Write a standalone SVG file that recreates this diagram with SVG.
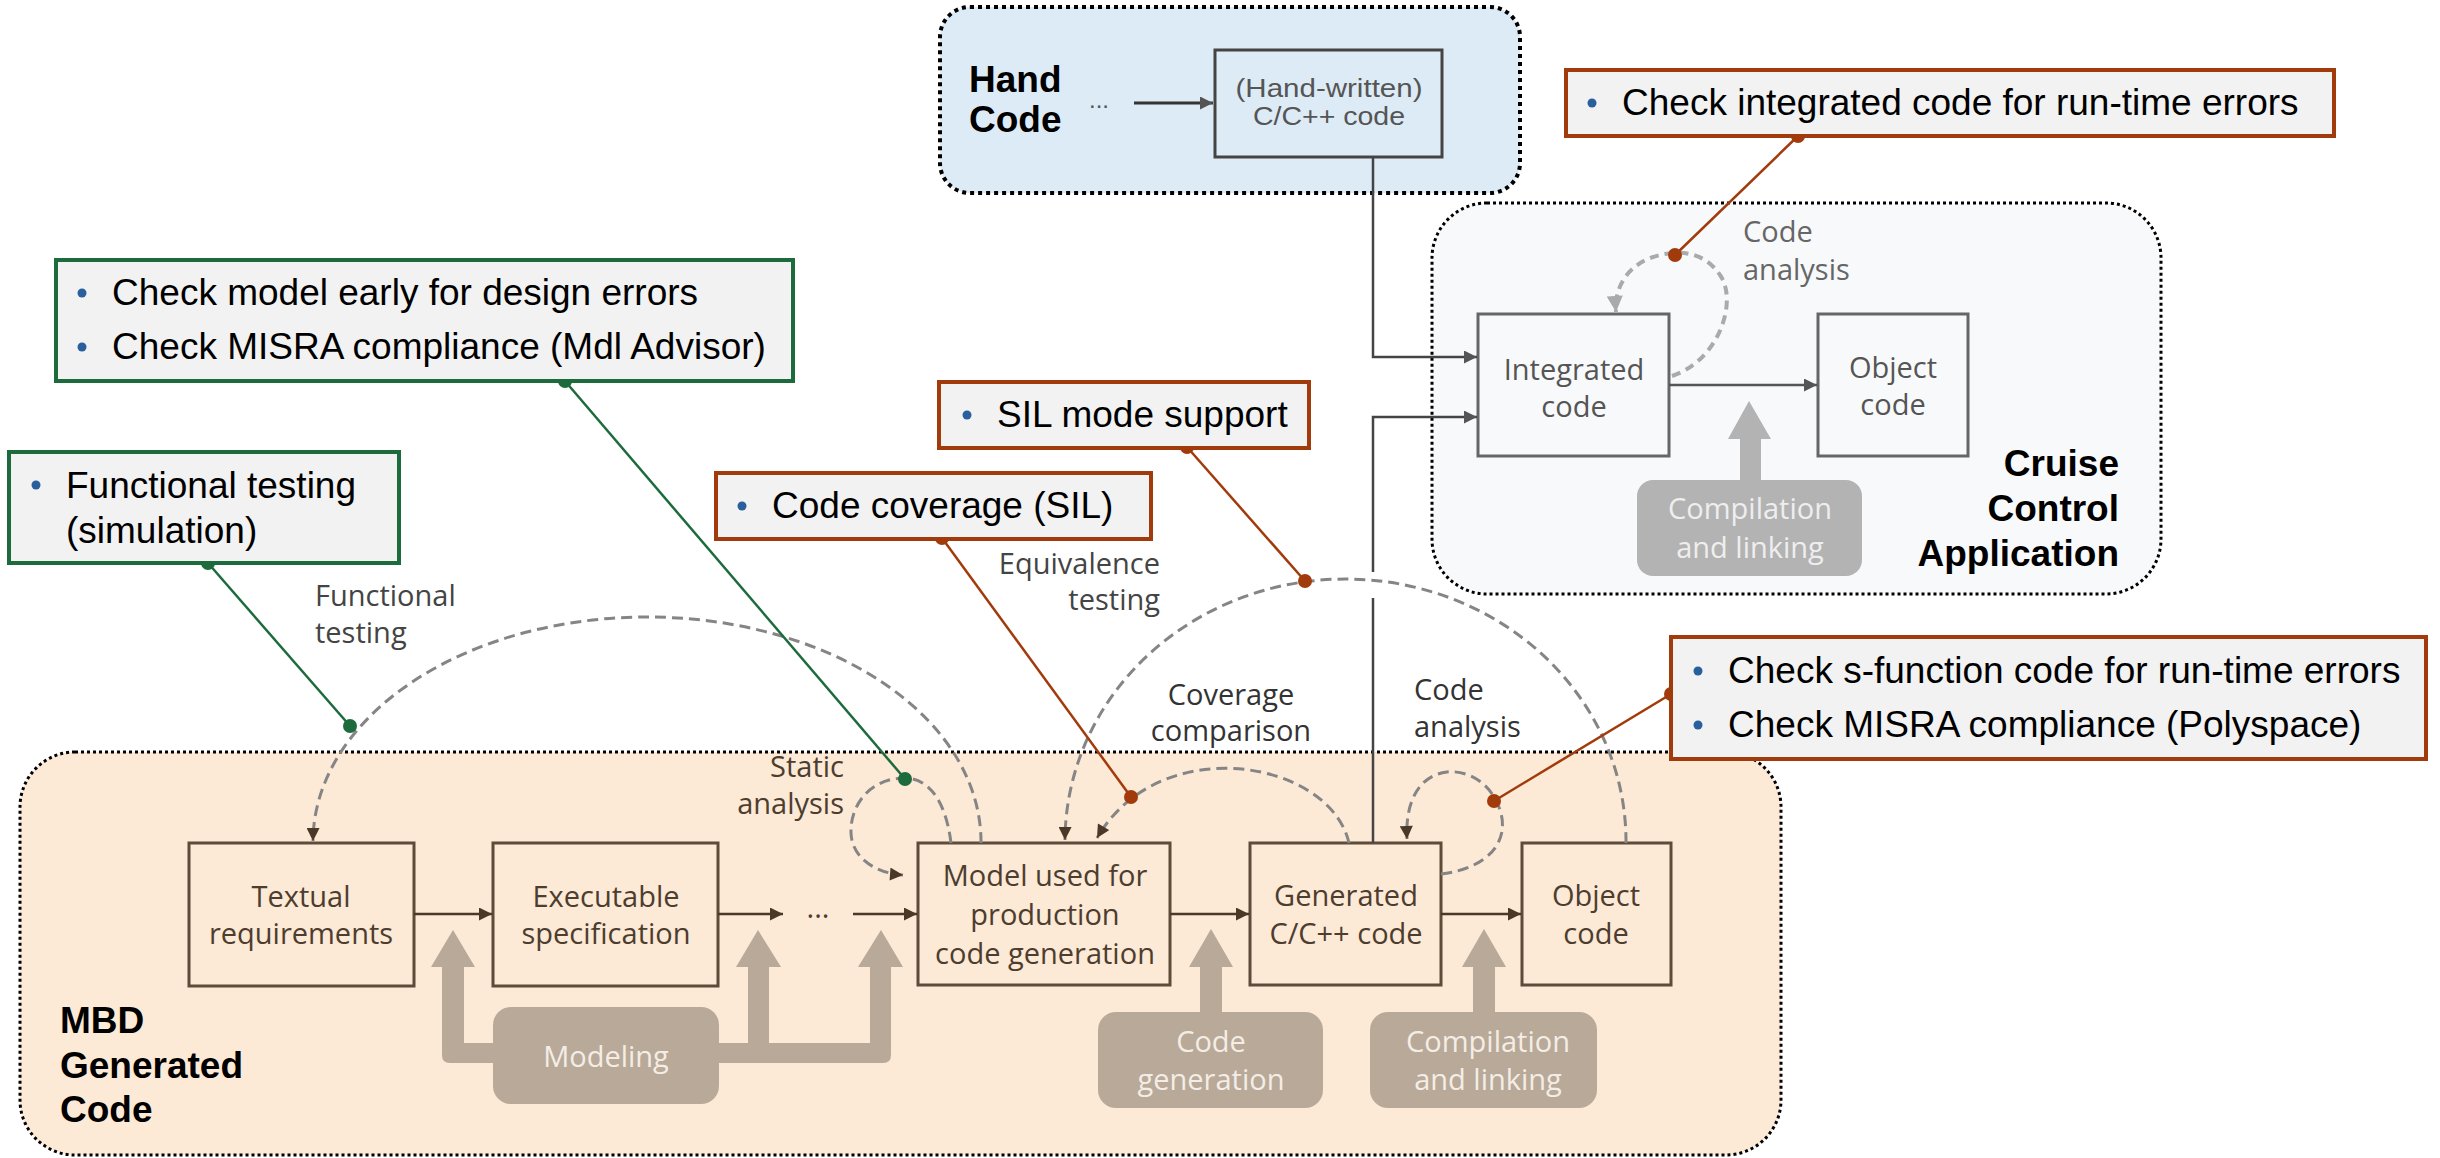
<svg xmlns="http://www.w3.org/2000/svg" width="2440" height="1158" viewBox="0 0 2440 1158">
<style>
.region{stroke:#000;stroke-linecap:butt}
.bold{font-family:"Liberation Sans",Arial,sans-serif;font-weight:bold;font-size:37px;fill:#000}
.co{fill:#f2f2f2;stroke-width:4}
.g{stroke:#1d6b3c}
.b{stroke:#a23b0c}
.cot{font-family:"Liberation Sans",Arial,sans-serif;font-size:37px;fill:#000}
.bul{fill:#2a5f9e}
.lbl{font-family:"Open Sans",sans-serif;font-size:29px}
.mbdbox{fill:#fce9d6;stroke:#5e4b39;stroke-width:3}
.mbdt{fill:#4d3d2f}
.tan{fill:#b8a999}
.tant{fill:#f4ede5}
.crbox{fill:#f8f9fb;stroke:#666;stroke-width:3}
.crt{fill:#555}
.sol{fill:none;stroke:#4a3828;stroke-width:2.5}
.dash{fill:none;stroke:#858585;stroke-width:3;stroke-dasharray:11 6}
.gl{stroke:#1d6b3c;stroke-width:2.5}
.bl{stroke:#a23b0c;stroke-width:2.5}
</style>
<defs>
<marker id="ah" viewBox="0 0 10 10" refX="10" refY="5" markerUnits="userSpaceOnUse" markerWidth="15" markerHeight="13" orient="auto"><path d="M0,0 L10,5 L0,10 z" fill="#4a3828"/></marker>
<marker id="ahg" viewBox="0 0 10 10" refX="10" refY="5" markerUnits="userSpaceOnUse" markerWidth="15" markerHeight="13" orient="auto"><path d="M0,0 L10,5 L0,10 z" fill="#555"/></marker>
<marker id="ahl" viewBox="0 0 10 10" refX="10" refY="5" markerUnits="userSpaceOnUse" markerWidth="18" markerHeight="16" orient="auto"><path d="M0,0 L10,5 L0,10 z" fill="#aaa"/></marker>
</defs>

<!-- Regions -->
<g id="hand-code-region">
<rect class="region" x="940" y="7" width="580" height="186" rx="30" fill="#ddebf7" stroke-width="4" stroke-dasharray="4 4"/>
<text class="bold" x="969" y="92">Hand</text>
<text class="bold" x="969" y="132">Code</text>
<text x="1099" y="108" text-anchor="middle" font-family="Liberation Sans,Arial,sans-serif" font-size="24" fill="#555">...</text>
</g>
<g id="cruise-region">
<rect class="region" x="1432" y="203" width="729" height="391" rx="55" fill="#f8f9fb" stroke-width="3" stroke-dasharray="3 3"/>
<text class="bold" x="2119" y="476" text-anchor="end">Cruise</text>
<text class="bold" x="2119" y="521" text-anchor="end">Control</text>
<text class="bold" x="2119" y="566" text-anchor="end">Application</text>
</g>
<g id="mbd-region">
<rect class="region" x="20" y="752" width="1761" height="403" rx="55" fill="#fce9d6" stroke-width="3" stroke-dasharray="3 3"/>
<text class="bold" x="60" y="1033">MBD</text>
<text class="bold" x="60" y="1078">Generated</text>
<text class="bold" x="60" y="1122">Code</text>
</g>

<!-- Nodes -->
<g id="handwritten-code">
<rect x="1215" y="50" width="227" height="107" fill="#ddebf7" stroke="#444" stroke-width="3"/>
<text x="1329" y="97" text-anchor="middle" font-family="Liberation Sans,Arial,sans-serif" font-size="25" fill="#555" textLength="187" lengthAdjust="spacingAndGlyphs">(Hand-written)</text>
<text x="1329" y="125" text-anchor="middle" font-family="Liberation Sans,Arial,sans-serif" font-size="25" fill="#555" textLength="152" lengthAdjust="spacingAndGlyphs">C/C++ code</text>
</g>
<g id="integrated-code">
<rect class="crbox" x="1478" y="314" width="191" height="142"/>
<text class="lbl crt" x="1574" y="380" text-anchor="middle">Integrated</text>
<text class="lbl crt" x="1574" y="417" text-anchor="middle">code</text>
</g>
<g id="cruise-object-code">
<rect class="crbox" x="1818" y="314" width="150" height="142"/>
<text class="lbl crt" x="1893" y="378" text-anchor="middle">Object</text>
<text class="lbl crt" x="1893" y="415" text-anchor="middle">code</text>
</g>
<g id="cruise-compilation">
<path d="M1749,401 L1771,439 L1761,439 L1761,482 L1740,482 L1740,439 L1728,439 Z" fill="#b3b3b3"/>
<rect x="1637" y="480" width="225" height="96" rx="16" fill="#b3b3b3"/>
<text class="lbl" x="1750" y="519" text-anchor="middle" fill="#eeeeee">Compilation</text>
<text class="lbl" x="1750" y="558" text-anchor="middle" fill="#eeeeee">and linking</text>
</g>
<g id="textual-requirements">
<rect class="mbdbox" x="189" y="843" width="225" height="143"/>
<text class="lbl mbdt" x="301" y="907" text-anchor="middle">Textual</text>
<text class="lbl mbdt" x="301" y="944" text-anchor="middle">requirements</text>
</g>
<g id="executable-specification">
<rect class="mbdbox" x="493" y="843" width="225" height="143"/>
<text class="lbl mbdt" x="606" y="907" text-anchor="middle">Executable</text>
<text class="lbl mbdt" x="606" y="944" text-anchor="middle">specification</text>
</g>
<g id="model-production">
<rect class="mbdbox" x="918" y="843" width="252" height="142"/>
<text class="lbl mbdt" x="1045" y="886" text-anchor="middle">Model used for</text>
<text class="lbl mbdt" x="1045" y="925" text-anchor="middle">production</text>
<text class="lbl mbdt" x="1045" y="964" text-anchor="middle">code generation</text>
</g>
<g id="generated-code">
<rect class="mbdbox" x="1250" y="843" width="191" height="142"/>
<text class="lbl mbdt" x="1346" y="906" text-anchor="middle">Generated</text>
<text class="lbl mbdt" x="1346" y="944" text-anchor="middle">C/C++ code</text>
</g>
<g id="mbd-object-code">
<rect class="mbdbox" x="1522" y="843" width="149" height="142"/>
<text class="lbl mbdt" x="1596" y="906" text-anchor="middle">Object</text>
<text class="lbl mbdt" x="1596" y="944" text-anchor="middle">code</text>
</g>
<g id="modeling">
<path class="tan" d="M453,930 L475,967 L464,967 L464,1043 L748,1043 L748,967 L736,967 L758,930 L781,967 L769,967 L769,1043 L870,1043 L870,967 L858,967 L881,930 L903,967 L891,967 L891,1055 Q891,1063 883,1063 L450,1063 Q442,1063 442,1055 L442,967 L431,967 Z"/>
<rect class="tan" x="493" y="1007" width="226" height="97" rx="18"/>
<text class="lbl tant" x="606" y="1067" text-anchor="middle">Modeling</text>
</g>
<g id="code-generation">
<path class="tan" d="M1211,929 L1233,967 L1222,967 L1222,1014 L1200,1014 L1200,967 L1189,967 Z"/>
<rect class="tan" x="1098" y="1012" width="225" height="96" rx="18"/>
<text class="lbl tant" x="1211" y="1052" text-anchor="middle">Code</text>
<text class="lbl tant" x="1211" y="1090" text-anchor="middle">generation</text>
</g>
<g id="mbd-compilation">
<path class="tan" d="M1484,929 L1506,967 L1495,967 L1495,1014 L1473,1014 L1473,967 L1462,967 Z"/>
<rect class="tan" x="1370" y="1012" width="227" height="96" rx="18"/>
<text class="lbl tant" x="1488" y="1052" text-anchor="middle">Compilation</text>
<text class="lbl tant" x="1488" y="1090" text-anchor="middle">and linking</text>
</g>
<g id="dots-ellipsis">
<text class="lbl mbdt" x="818" y="918" text-anchor="middle">...</text>
</g>

<!-- Flow labels -->
<g id="flow-labels">
<text class="lbl" x="315" y="606" fill="#444">Functional</text>
<text class="lbl" x="315" y="643" fill="#444">testing</text>
<text class="lbl mbdt" x="844" y="777" text-anchor="end">Static</text>
<text class="lbl mbdt" x="844" y="814" text-anchor="end">analysis</text>
<text class="lbl" x="1160" y="574" text-anchor="end" fill="#444">Equivalence</text>
<text class="lbl" x="1160" y="610" text-anchor="end" fill="#444">testing</text>
<text class="lbl" x="1231" y="705" text-anchor="middle" fill="#333">Coverage</text>
<text class="lbl" x="1231" y="741" text-anchor="middle" fill="#333">comparison</text>
<text class="lbl" x="1414" y="700" fill="#333">Code</text>
<text class="lbl" x="1414" y="737" fill="#333">analysis</text>
<text class="lbl" x="1743" y="242" fill="#666">Code</text>
<text class="lbl" x="1743" y="280" fill="#666">analysis</text>
</g>

<!-- Connectors -->
<g id="connectors">
<line x1="1134" y1="103" x2="1213" y2="103" stroke="#333" stroke-width="3" marker-end="url(#ahg)"/>
<path d="M1373,157 V357 H1477" fill="none" stroke="#444" stroke-width="2.5" marker-end="url(#ahg)"/>
<line x1="1373" y1="843" x2="1373" y2="598" stroke="#444" stroke-width="2.5"/>
<path d="M1373,572 V417 H1477" fill="none" stroke="#444" stroke-width="2.5" marker-end="url(#ahg)"/>
<line x1="1669" y1="385" x2="1817" y2="385" stroke="#555" stroke-width="2.5" marker-end="url(#ahg)"/>
<path d="M1672,376 C1720,360 1738,300 1720,275 C1705,252 1680,250 1660,255 C1630,262 1614,285 1616,312" fill="none" stroke="#aaa" stroke-width="4" stroke-dasharray="9 6" marker-end="url(#ahl)"/>

<line class="sol" x1="414" y1="914" x2="492" y2="914" marker-end="url(#ah)"/>
<line class="sol" x1="718" y1="914" x2="783" y2="914" marker-end="url(#ah)"/>
<line class="sol" x1="853" y1="914" x2="917" y2="914" marker-end="url(#ah)"/>
<line class="sol" x1="1170" y1="914" x2="1249" y2="914" marker-end="url(#ah)"/>
<line class="sol" x1="1441" y1="914" x2="1521" y2="914" marker-end="url(#ah)"/>

<path class="dash" d="M981,843 A334,225 0 0 0 313,841" marker-end="url(#ah)"/>
<path class="dash" d="M951,843 C945,795 925,778 905,778 C870,778 850,805 851,833 C852,858 875,873 903,875" marker-end="url(#ah)"/>
<path class="dash" d="M1626,843 A280,262 0 0 0 1065,840" marker-end="url(#ah)"/>
<path class="dash" d="M1349,843 C1330,760 1160,730 1097,838" marker-end="url(#ah)"/>
<path class="dash" d="M1441,874 C1490,868 1510,840 1500,810 C1490,780 1465,770 1447,772 C1420,775 1405,800 1407,839" marker-end="url(#ah)"/>

<line class="gl" x1="565" y1="381" x2="905" y2="779"/>
<line class="gl" x1="208" y1="563" x2="350" y2="726"/>
<line class="bl" x1="942" y1="538" x2="1131" y2="797"/>
<line class="bl" x1="1187" y1="447" x2="1305" y2="581"/>
<line class="bl" x1="1798" y1="136" x2="1675" y2="255"/>
<line class="bl" x1="1671" y1="694" x2="1494" y2="801"/>
<g fill="#1d6b3c">
<circle cx="565" cy="381" r="7"/><circle cx="905" cy="779" r="7"/>
<circle cx="208" cy="563" r="7"/><circle cx="350" cy="726" r="7"/>
</g>
<g fill="#a23b0c">
<circle cx="942" cy="538" r="7"/><circle cx="1131" cy="797" r="7"/>
<circle cx="1187" cy="447" r="7"/><circle cx="1305" cy="581" r="7"/>
<circle cx="1798" cy="136" r="7"/><circle cx="1675" cy="255" r="7"/>
<circle cx="1671" cy="694" r="7"/><circle cx="1494" cy="801" r="7"/>
</g>
</g>

<!-- Callouts -->
<g id="callout-model-check">
<rect class="co g" x="56" y="260" width="737" height="121"/>
<circle class="bul" cx="82" cy="293" r="4.5"/>
<circle class="bul" cx="82" cy="347" r="4.5"/>
<text class="cot" x="112" y="305">Check model early for design errors</text>
<text class="cot" x="112" y="359">Check MISRA compliance (Mdl Advisor)</text>
</g>
<g id="callout-functional">
<rect class="co g" x="9" y="452" width="390" height="111"/>
<circle class="bul" cx="36" cy="485" r="4.5"/>
<text class="cot" x="66" y="498">Functional testing</text>
<text class="cot" x="66" y="543">(simulation)</text>
</g>
<g id="callout-coverage">
<rect class="co b" x="716" y="473" width="435" height="66"/>
<circle class="bul" cx="742" cy="506" r="4.5"/>
<text class="cot" x="772" y="518">Code coverage (SIL)</text>
</g>
<g id="callout-sil">
<rect class="co b" x="939" y="382" width="370" height="66"/>
<circle class="bul" cx="967" cy="415" r="4.5"/>
<text class="cot" x="997" y="427">SIL mode support</text>
</g>
<g id="callout-integrated">
<rect class="co b" x="1566" y="70" width="768" height="66"/>
<circle class="bul" cx="1592" cy="103" r="4.5"/>
<text class="cot" x="1622" y="115">Check integrated code for run-time errors</text>
</g>
<g id="callout-sfunction">
<rect class="co b" x="1671" y="637" width="755" height="122"/>
<circle class="bul" cx="1698" cy="671" r="4.5"/>
<circle class="bul" cx="1698" cy="725" r="4.5"/>
<text class="cot" x="1728" y="683">Check s-function code for run-time errors</text>
<text class="cot" x="1728" y="737">Check MISRA compliance (Polyspace)</text>
</g>
</svg>
